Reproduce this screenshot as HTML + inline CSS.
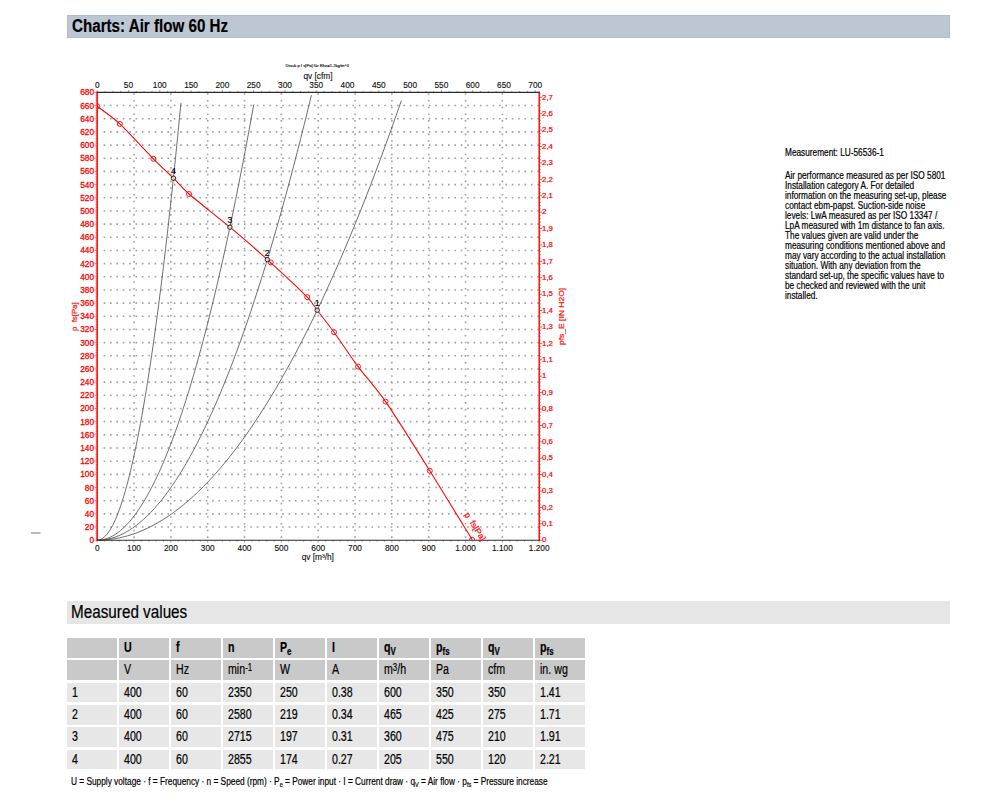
<!DOCTYPE html>
<html lang="en"><head><meta charset="utf-8"><title>Charts: Air flow 60 Hz</title>
<style>
html,body{margin:0;padding:0;background:#fff}
body{width:1000px;height:810px;position:relative;overflow:hidden;font-family:"Liberation Sans",Arial,sans-serif;color:#000;-webkit-text-stroke:0.2px #000}
.bar{position:absolute;left:67px;width:883px}
.bar span,.c span,.foot span.t,.para span{display:inline-block;white-space:nowrap;transform-origin:0 50%}
#b1{top:15.4px;height:22.6px;background:#bcc7d3;box-shadow:inset 0 0 0 1px #b0bdcb}
#b1 span{position:absolute;left:5.2px;top:0;line-height:22.6px;font-size:18.7px;font-weight:bold;transform:scaleX(.811)}
#b2{top:601px;height:23px;background:#e6e6e6}
#b2 span{position:absolute;left:3.6px;top:0;line-height:21.4px;font-size:18.3px;transform:scaleX(.835)}
.c{position:absolute;width:49.7px;height:19.7px}
.h{background:#c9c9c9} .d{background:#e7e7e7}
.c span{position:absolute;left:4.7px;top:0;line-height:19.6px;font-size:14px;transform:scaleX(.76)}
.d span{line-height:18.6px}
.b span{font-weight:bold}
.c sub,.c sup{font-size:10.4px;line-height:0}
.c sub{vertical-align:-2.6px} .c sup{vertical-align:3.2px}
.foot{position:absolute;left:70.9px;top:774.1px;font-size:10.5px;line-height:14px}
.foot span.t{display:block;transform:scaleX(.79)}
.foot sub{font-size:7px;line-height:0;vertical-align:-2px}
.para{position:absolute;left:785.3px;font-size:10.2px;line-height:10.04px}
.para span{display:block;transform:scaleX(.812);transform-origin:0 0}
#p1{top:147.8px} #p2{top:170.7px}
</style></head><body>
<div class="bar" id="b1"><span>Charts: Air flow 60 Hz</span></div>
<svg width="1000" height="810" viewBox="0 0 1000 810" style="position:absolute;left:0;top:0" font-family="'Liberation Sans', Arial, sans-serif" font-size="8.3" stroke-width="0.28">
<defs><clipPath id="plot"><rect x="97.2" y="92.4" width="442.00" height="447.80"/></clipPath></defs>
<path d="M134.03 93.25V540.20M170.87 93.25V540.20M207.70 93.25V540.20M244.53 93.25V540.20M281.37 93.25V540.20M318.20 93.25V540.20M355.03 93.25V540.20M391.87 93.25V540.20M428.70 93.25V540.20M465.53 93.25V540.20M502.37 93.25V540.20" stroke="#a0a0a0" stroke-width="1.6" stroke-dasharray="1.6 5.114" fill="none"/>
<path d="M103.65 527.03H539.20M103.65 513.86H539.20M103.65 500.69H539.20M103.65 487.52H539.20M103.65 474.35H539.20M103.65 461.18H539.20M103.65 448.01H539.20M103.65 434.84H539.20M103.65 421.66H539.20M103.65 408.49H539.20M103.65 395.32H539.20M103.65 382.15H539.20M103.65 368.98H539.20M103.65 355.81H539.20M103.65 342.64H539.20M103.65 329.47H539.20M103.65 316.30H539.20M103.65 303.13H539.20M103.65 289.96H539.20M103.65 276.79H539.20M103.65 263.62H539.20M103.65 250.45H539.20M103.65 237.28H539.20M103.65 224.11H539.20M103.65 210.94H539.20M103.65 197.76H539.20M103.65 184.59H539.20M103.65 171.42H539.20M103.65 158.25H539.20M103.65 145.08H539.20M103.65 131.91H539.20M103.65 118.74H539.20M103.65 105.57H539.20" stroke="#a0a0a0" stroke-width="1.6" stroke-dasharray="1.6 4.777" fill="none"/>
<polyline points="97.20 540.20 102.27 540.08 107.34 539.71 112.40 539.10 117.47 538.25 122.54 537.15 127.61 535.81 132.68 534.22 137.75 532.39 142.81 530.31 147.88 527.99 152.95 525.43 158.02 522.62 163.09 519.57 168.16 516.28 173.22 512.74 178.29 508.95 183.36 504.92 188.43 500.65 193.50 496.13 198.56 491.37 203.63 486.37 208.70 481.12 213.77 475.63 218.84 469.89 223.91 463.91 228.97 457.68 234.04 451.21 239.11 444.50 244.18 437.54 249.25 430.34 254.31 422.89 259.38 415.20 264.45 407.27 269.52 399.09 274.59 390.67 279.66 382.00 284.72 373.09 289.79 363.94 294.86 354.54 299.93 344.89 305.00 335.01 310.07 324.88 315.13 314.50 320.20 303.88 325.27 293.02 330.34 281.91 335.41 270.56 340.47 258.96 345.54 247.12 350.61 235.04 355.68 222.71 360.75 210.13 365.82 197.32 370.88 184.26 375.95 170.95 381.02 157.40 386.09 143.61 391.16 129.57 396.23 115.29 401.29 100.76" fill="none" stroke="#555" stroke-width="0.85"/>
<polyline points="97.20 540.20 100.77 540.08 104.34 539.71 107.91 539.09 111.48 538.22 115.05 537.11 118.62 535.75 122.19 534.14 125.76 532.29 129.33 530.19 132.90 527.84 136.47 525.24 140.04 522.40 143.61 519.31 147.18 515.97 150.75 512.39 154.32 508.55 157.90 504.47 161.47 500.15 165.04 495.57 168.61 490.75 172.18 485.68 175.75 480.37 179.32 474.80 182.89 468.99 186.46 462.94 190.03 456.63 193.60 450.08 197.17 443.28 200.74 436.24 204.31 428.94 207.88 421.40 211.45 413.61 215.02 405.58 218.59 397.29 222.16 388.76 225.73 379.99 229.30 370.96 232.87 361.69 236.44 352.17 240.01 342.41 243.58 332.39 247.15 322.13 250.72 311.63 254.29 300.87 257.86 289.87 261.43 278.62 265.00 267.12 268.57 255.38 272.15 243.39 275.72 231.15 279.29 218.66 282.86 205.93 286.43 192.95 290.00 179.72 293.57 166.25 297.14 152.53 300.71 138.56 304.28 124.34 307.85 109.88 311.42 95.17" fill="none" stroke="#555" stroke-width="0.85"/>
<polyline points="97.20 540.20 99.81 540.08 102.42 539.72 105.03 539.11 107.64 538.26 110.25 537.17 112.86 535.84 115.47 534.27 118.08 532.45 120.69 530.40 123.30 528.10 125.91 525.55 128.51 522.77 131.12 519.74 133.73 516.48 136.34 512.97 138.95 509.21 141.56 505.22 144.17 500.98 146.78 496.50 149.39 491.78 152.00 486.82 154.61 481.62 157.22 476.17 159.83 470.48 162.44 464.55 165.05 458.38 167.66 451.96 170.27 445.30 172.88 438.40 175.49 431.26 178.10 423.88 180.71 416.25 183.32 408.39 185.92 400.28 188.53 391.92 191.14 383.33 193.75 374.49 196.36 365.42 198.97 356.10 201.58 346.53 204.19 336.73 206.80 326.68 209.41 316.39 212.02 305.86 214.63 295.09 217.24 284.08 219.85 272.82 222.46 261.32 225.07 249.58 227.68 237.60 230.29 225.37 232.90 212.90 235.51 200.19 238.12 187.24 240.73 174.05 243.33 160.61 245.94 146.94 248.55 133.02 251.16 118.86 253.77 104.45" fill="none" stroke="#555" stroke-width="0.85"/>
<polyline points="97.20 540.20 98.60 540.08 99.99 539.71 101.39 539.11 102.78 538.26 104.18 537.16 105.58 535.83 106.97 534.25 108.37 532.42 109.76 530.36 111.16 528.05 112.56 525.50 113.95 522.70 115.35 519.67 116.74 516.39 118.14 512.86 119.54 509.10 120.93 505.09 122.33 500.83 123.72 496.34 125.12 491.60 126.52 486.62 127.91 481.39 129.31 475.93 130.70 470.22 132.10 464.26 133.50 458.07 134.89 451.63 136.29 444.95 137.68 438.02 139.08 430.85 140.48 423.44 141.87 415.79 143.27 407.89 144.66 399.75 146.06 391.36 147.46 382.74 148.85 373.87 150.25 364.76 151.64 355.40 153.04 345.80 154.44 335.96 155.83 325.88 157.23 315.55 158.62 304.98 160.02 294.17 161.42 283.11 162.81 271.81 164.21 260.27 165.60 248.48 167.00 236.45 168.40 224.18 169.79 211.67 171.19 198.91 172.58 185.91 173.98 172.67 175.38 159.18 176.77 145.45 178.17 131.48 179.56 117.26 180.96 102.80" fill="none" stroke="#555" stroke-width="0.85"/>
<path d="M97.20 106.30C99.71 108.26 113.56 118.07 119.80 123.90C126.04 129.73 147.44 152.77 153.40 158.80C159.36 164.83 169.44 174.29 173.40 178.20C177.36 182.11 182.72 188.56 189.00 194.00C195.28 199.44 221.17 219.89 229.90 227.20C238.63 234.51 259.01 252.03 267.60 259.80C276.19 267.57 301.69 291.50 307.20 297.10C312.71 302.70 314.22 306.30 317.20 310.20C320.18 314.10 329.47 325.93 334.00 332.20C338.53 338.47 352.27 358.89 358.00 366.60C363.73 374.31 377.62 390.03 385.60 401.60C393.58 413.17 420.18 455.34 429.80 470.70C439.42 486.06 467.49 532.12 472.20 539.80" fill="none" stroke="#ff0000" stroke-width="1.05"/>
<g clip-path="url(#plot)">
<circle cx="97.2" cy="106.3" r="2.5" fill="none" stroke="#ff0000" stroke-width="0.9"/>
<circle cx="119.8" cy="123.9" r="2.5" fill="none" stroke="#ff0000" stroke-width="0.9"/>
<circle cx="153.4" cy="158.8" r="2.5" fill="none" stroke="#ff0000" stroke-width="0.9"/>
<circle cx="189.0" cy="194.0" r="2.5" fill="none" stroke="#ff0000" stroke-width="0.9"/>
<circle cx="270.7" cy="262.4" r="2.5" fill="none" stroke="#ff0000" stroke-width="0.9"/>
<circle cx="307.2" cy="297.1" r="2.5" fill="none" stroke="#ff0000" stroke-width="0.9"/>
<circle cx="334.0" cy="332.2" r="2.5" fill="none" stroke="#ff0000" stroke-width="0.9"/>
<circle cx="358.0" cy="366.6" r="2.5" fill="none" stroke="#ff0000" stroke-width="0.9"/>
<circle cx="385.6" cy="401.6" r="2.5" fill="none" stroke="#ff0000" stroke-width="0.9"/>
<circle cx="429.8" cy="470.7" r="2.5" fill="none" stroke="#ff0000" stroke-width="0.9"/>
<circle cx="472.2" cy="539.8" r="2.5" fill="none" stroke="#ff0000" stroke-width="0.9"/>
</g>
<path d="M97.20 540.20h-2.8M97.20 538.55h-1.6M97.20 536.91h-1.6M97.20 535.26h-1.6M97.20 533.61h-1.6M97.20 531.97h-1.6M97.20 530.32h-1.6M97.20 528.68h-1.6M97.20 527.03h-2.8M97.20 525.38h-1.6M97.20 523.74h-1.6M97.20 522.09h-1.6M97.20 520.44h-1.6M97.20 518.80h-1.6M97.20 517.15h-1.6M97.20 515.51h-1.6M97.20 513.86h-2.8M97.20 512.21h-1.6M97.20 510.57h-1.6M97.20 508.92h-1.6M97.20 507.27h-1.6M97.20 505.63h-1.6M97.20 503.98h-1.6M97.20 502.33h-1.6M97.20 500.69h-2.8M97.20 499.04h-1.6M97.20 497.40h-1.6M97.20 495.75h-1.6M97.20 494.10h-1.6M97.20 492.46h-1.6M97.20 490.81h-1.6M97.20 489.16h-1.6M97.20 487.52h-2.8M97.20 485.87h-1.6M97.20 484.23h-1.6M97.20 482.58h-1.6M97.20 480.93h-1.6M97.20 479.29h-1.6M97.20 477.64h-1.6M97.20 475.99h-1.6M97.20 474.35h-2.8M97.20 472.70h-1.6M97.20 471.05h-1.6M97.20 469.41h-1.6M97.20 467.76h-1.6M97.20 466.12h-1.6M97.20 464.47h-1.6M97.20 462.82h-1.6M97.20 461.18h-2.8M97.20 459.53h-1.6M97.20 457.88h-1.6M97.20 456.24h-1.6M97.20 454.59h-1.6M97.20 452.94h-1.6M97.20 451.30h-1.6M97.20 449.65h-1.6M97.20 448.01h-2.8M97.20 446.36h-1.6M97.20 444.71h-1.6M97.20 443.07h-1.6M97.20 441.42h-1.6M97.20 439.77h-1.6M97.20 438.13h-1.6M97.20 436.48h-1.6M97.20 434.84h-2.8M97.20 433.19h-1.6M97.20 431.54h-1.6M97.20 429.90h-1.6M97.20 428.25h-1.6M97.20 426.60h-1.6M97.20 424.96h-1.6M97.20 423.31h-1.6M97.20 421.66h-2.8M97.20 420.02h-1.6M97.20 418.37h-1.6M97.20 416.73h-1.6M97.20 415.08h-1.6M97.20 413.43h-1.6M97.20 411.79h-1.6M97.20 410.14h-1.6M97.20 408.49h-2.8M97.20 406.85h-1.6M97.20 405.20h-1.6M97.20 403.56h-1.6M97.20 401.91h-1.6M97.20 400.26h-1.6M97.20 398.62h-1.6M97.20 396.97h-1.6M97.20 395.32h-2.8M97.20 393.68h-1.6M97.20 392.03h-1.6M97.20 390.38h-1.6M97.20 388.74h-1.6M97.20 387.09h-1.6M97.20 385.45h-1.6M97.20 383.80h-1.6M97.20 382.15h-2.8M97.20 380.51h-1.6M97.20 378.86h-1.6M97.20 377.21h-1.6M97.20 375.57h-1.6M97.20 373.92h-1.6M97.20 372.27h-1.6M97.20 370.63h-1.6M97.20 368.98h-2.8M97.20 367.34h-1.6M97.20 365.69h-1.6M97.20 364.04h-1.6M97.20 362.40h-1.6M97.20 360.75h-1.6M97.20 359.10h-1.6M97.20 357.46h-1.6M97.20 355.81h-2.8M97.20 354.17h-1.6M97.20 352.52h-1.6M97.20 350.87h-1.6M97.20 349.23h-1.6M97.20 347.58h-1.6M97.20 345.93h-1.6M97.20 344.29h-1.6M97.20 342.64h-2.8M97.20 340.99h-1.6M97.20 339.35h-1.6M97.20 337.70h-1.6M97.20 336.06h-1.6M97.20 334.41h-1.6M97.20 332.76h-1.6M97.20 331.12h-1.6M97.20 329.47h-2.8M97.20 327.82h-1.6M97.20 326.18h-1.6M97.20 324.53h-1.6M97.20 322.89h-1.6M97.20 321.24h-1.6M97.20 319.59h-1.6M97.20 317.95h-1.6M97.20 316.30h-2.8M97.20 314.65h-1.6M97.20 313.01h-1.6M97.20 311.36h-1.6M97.20 309.71h-1.6M97.20 308.07h-1.6M97.20 306.42h-1.6M97.20 304.78h-1.6M97.20 303.13h-2.8M97.20 301.48h-1.6M97.20 299.84h-1.6M97.20 298.19h-1.6M97.20 296.54h-1.6M97.20 294.90h-1.6M97.20 293.25h-1.6M97.20 291.61h-1.6M97.20 289.96h-2.8M97.20 288.31h-1.6M97.20 286.67h-1.6M97.20 285.02h-1.6M97.20 283.37h-1.6M97.20 281.73h-1.6M97.20 280.08h-1.6M97.20 278.43h-1.6M97.20 276.79h-2.8M97.20 275.14h-1.6M97.20 273.50h-1.6M97.20 271.85h-1.6M97.20 270.20h-1.6M97.20 268.56h-1.6M97.20 266.91h-1.6M97.20 265.26h-1.6M97.20 263.62h-2.8M97.20 261.97h-1.6M97.20 260.32h-1.6M97.20 258.68h-1.6M97.20 257.03h-1.6M97.20 255.39h-1.6M97.20 253.74h-1.6M97.20 252.09h-1.6M97.20 250.45h-2.8M97.20 248.80h-1.6M97.20 247.15h-1.6M97.20 245.51h-1.6M97.20 243.86h-1.6M97.20 242.22h-1.6M97.20 240.57h-1.6M97.20 238.92h-1.6M97.20 237.28h-2.8M97.20 235.63h-1.6M97.20 233.98h-1.6M97.20 232.34h-1.6M97.20 230.69h-1.6M97.20 229.04h-1.6M97.20 227.40h-1.6M97.20 225.75h-1.6M97.20 224.11h-2.8M97.20 222.46h-1.6M97.20 220.81h-1.6M97.20 219.17h-1.6M97.20 217.52h-1.6M97.20 215.87h-1.6M97.20 214.23h-1.6M97.20 212.58h-1.6M97.20 210.94h-2.8M97.20 209.29h-1.6M97.20 207.64h-1.6M97.20 206.00h-1.6M97.20 204.35h-1.6M97.20 202.70h-1.6M97.20 201.06h-1.6M97.20 199.41h-1.6M97.20 197.76h-2.8M97.20 196.12h-1.6M97.20 194.47h-1.6M97.20 192.83h-1.6M97.20 191.18h-1.6M97.20 189.53h-1.6M97.20 187.89h-1.6M97.20 186.24h-1.6M97.20 184.59h-2.8M97.20 182.95h-1.6M97.20 181.30h-1.6M97.20 179.66h-1.6M97.20 178.01h-1.6M97.20 176.36h-1.6M97.20 174.72h-1.6M97.20 173.07h-1.6M97.20 171.42h-2.8M97.20 169.78h-1.6M97.20 168.13h-1.6M97.20 166.48h-1.6M97.20 164.84h-1.6M97.20 163.19h-1.6M97.20 161.55h-1.6M97.20 159.90h-1.6M97.20 158.25h-2.8M97.20 156.61h-1.6M97.20 154.96h-1.6M97.20 153.31h-1.6M97.20 151.67h-1.6M97.20 150.02h-1.6M97.20 148.37h-1.6M97.20 146.73h-1.6M97.20 145.08h-2.8M97.20 143.44h-1.6M97.20 141.79h-1.6M97.20 140.14h-1.6M97.20 138.50h-1.6M97.20 136.85h-1.6M97.20 135.20h-1.6M97.20 133.56h-1.6M97.20 131.91h-2.8M97.20 130.27h-1.6M97.20 128.62h-1.6M97.20 126.97h-1.6M97.20 125.33h-1.6M97.20 123.68h-1.6M97.20 122.03h-1.6M97.20 120.39h-1.6M97.20 118.74h-2.8M97.20 117.09h-1.6M97.20 115.45h-1.6M97.20 113.80h-1.6M97.20 112.16h-1.6M97.20 110.51h-1.6M97.20 108.86h-1.6M97.20 107.22h-1.6M97.20 105.57h-2.8M97.20 103.92h-1.6M97.20 102.28h-1.6M97.20 100.63h-1.6M97.20 98.99h-1.6M97.20 97.34h-1.6M97.20 95.69h-1.6M97.20 94.05h-1.6M97.20 92.40h-2.8" stroke="#ff0000" stroke-width="0.55" fill="none"/>
<line x1="97.2" y1="91.80" x2="97.2" y2="540.80" stroke="#ff0000" stroke-width="1.4"/>
<path d="M539.20 540.20h3.0M539.20 536.92h1.5M539.20 533.64h1.5M539.20 530.36h1.5M539.20 527.08h1.5M539.20 523.80h3.0M539.20 520.52h1.5M539.20 517.24h1.5M539.20 513.95h1.5M539.20 510.67h1.5M539.20 507.39h3.0M539.20 504.11h1.5M539.20 500.83h1.5M539.20 497.55h1.5M539.20 494.27h1.5M539.20 490.99h3.0M539.20 487.71h1.5M539.20 484.43h1.5M539.20 481.15h1.5M539.20 477.87h1.5M539.20 474.59h3.0M539.20 471.31h1.5M539.20 468.03h1.5M539.20 464.75h1.5M539.20 461.46h1.5M539.20 458.18h3.0M539.20 454.90h1.5M539.20 451.62h1.5M539.20 448.34h1.5M539.20 445.06h1.5M539.20 441.78h3.0M539.20 438.50h1.5M539.20 435.22h1.5M539.20 431.94h1.5M539.20 428.66h1.5M539.20 425.38h3.0M539.20 422.10h1.5M539.20 418.82h1.5M539.20 415.54h1.5M539.20 412.25h1.5M539.20 408.97h3.0M539.20 405.69h1.5M539.20 402.41h1.5M539.20 399.13h1.5M539.20 395.85h1.5M539.20 392.57h3.0M539.20 389.29h1.5M539.20 386.01h1.5M539.20 382.73h1.5M539.20 379.45h1.5M539.20 376.17h3.0M539.20 372.89h1.5M539.20 369.61h1.5M539.20 366.33h1.5M539.20 363.04h1.5M539.20 359.76h3.0M539.20 356.48h1.5M539.20 353.20h1.5M539.20 349.92h1.5M539.20 346.64h1.5M539.20 343.36h3.0M539.20 340.08h1.5M539.20 336.80h1.5M539.20 333.52h1.5M539.20 330.24h1.5M539.20 326.96h3.0M539.20 323.68h1.5M539.20 320.40h1.5M539.20 317.12h1.5M539.20 313.84h1.5M539.20 310.55h3.0M539.20 307.27h1.5M539.20 303.99h1.5M539.20 300.71h1.5M539.20 297.43h1.5M539.20 294.15h3.0M539.20 290.87h1.5M539.20 287.59h1.5M539.20 284.31h1.5M539.20 281.03h1.5M539.20 277.75h3.0M539.20 274.47h1.5M539.20 271.19h1.5M539.20 267.91h1.5M539.20 264.63h1.5M539.20 261.34h3.0M539.20 258.06h1.5M539.20 254.78h1.5M539.20 251.50h1.5M539.20 248.22h1.5M539.20 244.94h3.0M539.20 241.66h1.5M539.20 238.38h1.5M539.20 235.10h1.5M539.20 231.82h1.5M539.20 228.54h3.0M539.20 225.26h1.5M539.20 221.98h1.5M539.20 218.70h1.5M539.20 215.42h1.5M539.20 212.14h3.0M539.20 208.85h1.5M539.20 205.57h1.5M539.20 202.29h1.5M539.20 199.01h1.5M539.20 195.73h3.0M539.20 192.45h1.5M539.20 189.17h1.5M539.20 185.89h1.5M539.20 182.61h1.5M539.20 179.33h3.0M539.20 176.05h1.5M539.20 172.77h1.5M539.20 169.49h1.5M539.20 166.21h1.5M539.20 162.93h3.0M539.20 159.64h1.5M539.20 156.36h1.5M539.20 153.08h1.5M539.20 149.80h1.5M539.20 146.52h3.0M539.20 143.24h1.5M539.20 139.96h1.5M539.20 136.68h1.5M539.20 133.40h1.5M539.20 130.12h3.0M539.20 126.84h1.5M539.20 123.56h1.5M539.20 120.28h1.5M539.20 117.00h1.5M539.20 113.72h3.0M539.20 110.44h1.5M539.20 107.15h1.5M539.20 103.87h1.5M539.20 100.59h1.5M539.20 97.31h3.0M539.20 94.03h1.5" stroke="#ff0000" stroke-width="0.7" fill="none"/>
<line x1="539.2" y1="91.80" x2="539.2" y2="540.80" stroke="#ff0000" stroke-width="1.4"/>
<path d="M97.20 92.40v-2.4M105.02 92.40v-1.5M112.85 92.40v-1.5M120.67 92.40v-1.5M128.49 92.40v-2.4M136.31 92.40v-1.5M144.14 92.40v-1.5M151.96 92.40v-1.5M159.78 92.40v-2.4M167.60 92.40v-1.5M175.43 92.40v-1.5M183.25 92.40v-1.5M191.07 92.40v-2.4M198.89 92.40v-1.5M206.72 92.40v-1.5M214.54 92.40v-1.5M222.36 92.40v-2.4M230.18 92.40v-1.5M238.01 92.40v-1.5M245.83 92.40v-1.5M253.65 92.40v-2.4M261.47 92.40v-1.5M269.30 92.40v-1.5M277.12 92.40v-1.5M284.94 92.40v-2.4M292.76 92.40v-1.5M300.59 92.40v-1.5M308.41 92.40v-1.5M316.23 92.40v-2.4M324.05 92.40v-1.5M331.88 92.40v-1.5M339.70 92.40v-1.5M347.52 92.40v-2.4M355.34 92.40v-1.5M363.17 92.40v-1.5M370.99 92.40v-1.5M378.81 92.40v-2.4M386.63 92.40v-1.5M394.46 92.40v-1.5M402.28 92.40v-1.5M410.10 92.40v-2.4M417.92 92.40v-1.5M425.75 92.40v-1.5M433.57 92.40v-1.5M441.39 92.40v-2.4M449.21 92.40v-1.5M457.04 92.40v-1.5M464.86 92.40v-1.5M472.68 92.40v-2.4M480.50 92.40v-1.5M488.33 92.40v-1.5M496.15 92.40v-1.5M503.97 92.40v-2.4M511.79 92.40v-1.5M519.62 92.40v-1.5M527.44 92.40v-1.5M535.26 92.40v-2.4" stroke="#2b2b2b" stroke-width="0.6" fill="none" opacity="0.7"/>
<line x1="96.60" y1="92.4" x2="539.80" y2="92.4" stroke="#2b2b2b" stroke-width="1.1"/>
<path d="M97.20 540.20v2.4M104.57 540.20v1.5M111.93 540.20v1.5M119.30 540.20v1.5M126.67 540.20v1.5M134.03 540.20v2.4M141.40 540.20v1.5M148.77 540.20v1.5M156.13 540.20v1.5M163.50 540.20v1.5M170.87 540.20v2.4M178.23 540.20v1.5M185.60 540.20v1.5M192.97 540.20v1.5M200.33 540.20v1.5M207.70 540.20v2.4M215.07 540.20v1.5M222.43 540.20v1.5M229.80 540.20v1.5M237.17 540.20v1.5M244.53 540.20v2.4M251.90 540.20v1.5M259.27 540.20v1.5M266.63 540.20v1.5M274.00 540.20v1.5M281.37 540.20v2.4M288.73 540.20v1.5M296.10 540.20v1.5M303.47 540.20v1.5M310.83 540.20v1.5M318.20 540.20v2.4M325.57 540.20v1.5M332.93 540.20v1.5M340.30 540.20v1.5M347.67 540.20v1.5M355.03 540.20v2.4M362.40 540.20v1.5M369.77 540.20v1.5M377.13 540.20v1.5M384.50 540.20v1.5M391.87 540.20v2.4M399.23 540.20v1.5M406.60 540.20v1.5M413.97 540.20v1.5M421.33 540.20v1.5M428.70 540.20v2.4M436.07 540.20v1.5M443.43 540.20v1.5M450.80 540.20v1.5M458.17 540.20v1.5M465.53 540.20v2.4M472.90 540.20v1.5M480.27 540.20v1.5M487.63 540.20v1.5M495.00 540.20v1.5M502.37 540.20v2.4M509.73 540.20v1.5M517.10 540.20v1.5M524.47 540.20v1.5M531.83 540.20v1.5M539.20 540.20v2.4" stroke="#2b2b2b" stroke-width="0.6" fill="none" opacity="0.7"/>
<line x1="96.60" y1="540.2" x2="539.80" y2="540.2" stroke="#2b2b2b" stroke-width="1.15"/>
<circle cx="317.20" cy="310.20" r="2.2" fill="#fff" fill-opacity="0.7" stroke="#111" stroke-width="0.95"/>
<text x="317.20" y="306.10" text-anchor="middle" fill="#000" stroke="#000" stroke-width="0.18" font-size="8.8">1</text>
<circle cx="267.30" cy="259.60" r="2.2" fill="#fff" fill-opacity="0.7" stroke="#111" stroke-width="0.95"/>
<text x="267.30" y="255.50" text-anchor="middle" fill="#000" stroke="#000" stroke-width="0.18" font-size="8.8">2</text>
<circle cx="229.90" cy="227.20" r="2.2" fill="#fff" fill-opacity="0.7" stroke="#111" stroke-width="0.95"/>
<text x="229.90" y="223.10" text-anchor="middle" fill="#000" stroke="#000" stroke-width="0.18" font-size="8.8">3</text>
<circle cx="173.40" cy="178.20" r="2.2" fill="#fff" fill-opacity="0.7" stroke="#111" stroke-width="0.95"/>
<text x="173.40" y="174.10" text-anchor="middle" fill="#000" stroke="#000" stroke-width="0.18" font-size="8.8">4</text>
<g fill="#ff0000" stroke="#ff0000" text-anchor="end">
<text x="94.10" y="543.20">0</text>
<text x="94.10" y="530.03">20</text>
<text x="94.10" y="516.86">40</text>
<text x="94.10" y="503.69">60</text>
<text x="94.10" y="490.52">80</text>
<text x="94.10" y="477.35">100</text>
<text x="94.10" y="464.18">120</text>
<text x="94.10" y="451.01">140</text>
<text x="94.10" y="437.84">160</text>
<text x="94.10" y="424.66">180</text>
<text x="94.10" y="411.49">200</text>
<text x="94.10" y="398.32">220</text>
<text x="94.10" y="385.15">240</text>
<text x="94.10" y="371.98">260</text>
<text x="94.10" y="358.81">280</text>
<text x="94.10" y="345.64">300</text>
<text x="94.10" y="332.47">320</text>
<text x="94.10" y="319.30">340</text>
<text x="94.10" y="306.13">360</text>
<text x="94.10" y="292.96">380</text>
<text x="94.10" y="279.79">400</text>
<text x="94.10" y="266.62">420</text>
<text x="94.10" y="253.45">440</text>
<text x="94.10" y="240.28">460</text>
<text x="94.10" y="227.11">480</text>
<text x="94.10" y="213.94">500</text>
<text x="94.10" y="200.76">520</text>
<text x="94.10" y="187.59">540</text>
<text x="94.10" y="174.42">560</text>
<text x="94.10" y="161.25">580</text>
<text x="94.10" y="148.08">600</text>
<text x="94.10" y="134.91">620</text>
<text x="94.10" y="121.74">640</text>
<text x="94.10" y="108.57">660</text>
<text x="94.10" y="95.40">680</text>
</g>
<g fill="#ff0000" stroke="#ff0000" stroke-width="0.22" font-size="7.8">
<text x="542.10" y="542.40">0</text>
<text x="542.10" y="526.00">0,1</text>
<text x="542.10" y="509.59">0,2</text>
<text x="542.10" y="493.19">0,3</text>
<text x="542.10" y="476.79">0,4</text>
<text x="542.10" y="460.38">0,5</text>
<text x="542.10" y="443.98">0,6</text>
<text x="542.10" y="427.58">0,7</text>
<text x="542.10" y="411.17">0,8</text>
<text x="542.10" y="394.77">0,9</text>
<text x="542.10" y="378.37">1</text>
<text x="542.10" y="361.96">1,1</text>
<text x="542.10" y="345.56">1,2</text>
<text x="542.10" y="329.16">1,3</text>
<text x="542.10" y="312.75">1,4</text>
<text x="542.10" y="296.35">1,5</text>
<text x="542.10" y="279.95">1,6</text>
<text x="542.10" y="263.54">1,7</text>
<text x="542.10" y="247.14">1,8</text>
<text x="542.10" y="230.74">1,9</text>
<text x="542.10" y="214.34">2</text>
<text x="542.10" y="197.93">2,1</text>
<text x="542.10" y="181.53">2,2</text>
<text x="542.10" y="165.13">2,3</text>
<text x="542.10" y="148.72">2,4</text>
<text x="542.10" y="132.32">2,5</text>
<text x="542.10" y="115.92">2,6</text>
<text x="542.10" y="99.51">2,7</text>
</g>
<g fill="#111" stroke="#111" stroke-width="0.13" text-anchor="middle">
<text x="97.20" y="87.9">0</text>
<text x="128.49" y="87.9">50</text>
<text x="159.78" y="87.9">100</text>
<text x="191.07" y="87.9">150</text>
<text x="222.36" y="87.9">200</text>
<text x="253.65" y="87.9">250</text>
<text x="284.94" y="87.9">300</text>
<text x="316.23" y="87.9">350</text>
<text x="347.52" y="87.9">400</text>
<text x="378.81" y="87.9">450</text>
<text x="410.10" y="87.9">500</text>
<text x="441.39" y="87.9">550</text>
<text x="472.68" y="87.9">600</text>
<text x="503.97" y="87.9">650</text>
<text x="535.26" y="87.9">700</text>
</g>
<g fill="#111" stroke="#111" stroke-width="0.13" text-anchor="middle">
<text x="97.20" y="550.9">0</text>
<text x="134.03" y="550.9">100</text>
<text x="170.87" y="550.9">200</text>
<text x="207.70" y="550.9">300</text>
<text x="244.53" y="550.9">400</text>
<text x="281.37" y="550.9">500</text>
<text x="318.20" y="550.9">600</text>
<text x="355.03" y="550.9">700</text>
<text x="391.87" y="550.9">800</text>
<text x="428.70" y="550.9">900</text>
<text x="465.53" y="550.9">1.000</text>
<text x="502.37" y="550.9">1.100</text>
<text x="539.20" y="550.9">1.200</text>
</g>
<text x="317.1" y="66.6" text-anchor="middle" fill="#000" stroke="#000" stroke-width="0.12" font-size="4.15">Druck p f s[Pa] für Rho=1.2kg/m^3</text>
<text x="318" y="78.6" text-anchor="middle" fill="#111" stroke="#111" stroke-width="0.13">qv [cfm]</text>
<text x="317.8" y="560.2" text-anchor="middle" fill="#111" stroke="#111" stroke-width="0.13">qv [m³/h]</text>
<text transform="translate(76.8 331) rotate(-90)" fill="#ff0000" stroke="#ff0000" stroke-width="0.18" font-size="8" textLength="28.6" lengthAdjust="spacingAndGlyphs" xml:space="preserve">p  fs[Pa]</text>
<text transform="translate(564 345) rotate(-90)" fill="#ff0000" stroke="#ff0000" stroke-width="0.18" font-size="8" textLength="57.2" lengthAdjust="spacingAndGlyphs">pfs_E [IN H2O]</text>
<text transform="translate(464.2 514.6) rotate(57.5)" fill="#ff0000" stroke="#ff0000" stroke-width="0.18" textLength="32" lengthAdjust="spacingAndGlyphs" xml:space="preserve">p  fs[Pa]</text>
<line x1="31" y1="533" x2="40.5" y2="533" stroke="#777" stroke-width="1"/>
</svg>
<div class="para" id="p1"><span>Measurement: LU-56536-1</span></div>
<div class="para" id="p2"><span>Air performance measured as per ISO 5801<br>Installation category A. For detailed<br>information on the measuring set-up, please<br>contact ebm-papst. Suction-side noise<br>levels: LwA measured as per ISO 13347 /<br>LpA measured with 1m distance to fan axis.<br>The values given are valid under the<br>measuring conditions mentioned above and<br>may vary according to the actual installation<br>situation. With any deviation from the<br>standard set-up, the specific values have to<br>be checked and reviewed with the unit<br>installed.</span></div>
<div class="bar" id="b2"><span>Measured values</span></div>
<div class="c h b" style="left:67px;top:638.00px"><span></span></div>
<div class="c h b" style="left:119px;top:638.00px"><span>U</span></div>
<div class="c h b" style="left:171px;top:638.00px"><span>f</span></div>
<div class="c h b" style="left:223px;top:638.00px"><span>n</span></div>
<div class="c h b" style="left:275px;top:638.00px"><span>P<sub>e</sub></span></div>
<div class="c h b" style="left:327px;top:638.00px"><span>I</span></div>
<div class="c h b" style="left:379px;top:638.00px"><span>q<sub>V</sub></span></div>
<div class="c h b" style="left:431px;top:638.00px"><span>p<sub>fs</sub></span></div>
<div class="c h b" style="left:483px;top:638.00px"><span>q<sub>V</sub></span></div>
<div class="c h b" style="left:535px;top:638.00px"><span>p<sub>fs</sub></span></div>
<div class="c h" style="left:67px;top:660.35px"><span></span></div>
<div class="c h" style="left:119px;top:660.35px"><span>V</span></div>
<div class="c h" style="left:171px;top:660.35px"><span>Hz</span></div>
<div class="c h" style="left:223px;top:660.35px"><span>min<sup>-1</sup></span></div>
<div class="c h" style="left:275px;top:660.35px"><span>W</span></div>
<div class="c h" style="left:327px;top:660.35px"><span>A</span></div>
<div class="c h" style="left:379px;top:660.35px"><span>m<sup>3</sup>/h</span></div>
<div class="c h" style="left:431px;top:660.35px"><span>Pa</span></div>
<div class="c h" style="left:483px;top:660.35px"><span>cfm</span></div>
<div class="c h" style="left:535px;top:660.35px"><span>in. wg</span></div>
<div class="c d" style="left:67px;top:682.70px"><span>1</span></div>
<div class="c d" style="left:119px;top:682.70px"><span>400</span></div>
<div class="c d" style="left:171px;top:682.70px"><span>60</span></div>
<div class="c d" style="left:223px;top:682.70px"><span>2350</span></div>
<div class="c d" style="left:275px;top:682.70px"><span>250</span></div>
<div class="c d" style="left:327px;top:682.70px"><span>0.38</span></div>
<div class="c d" style="left:379px;top:682.70px"><span>600</span></div>
<div class="c d" style="left:431px;top:682.70px"><span>350</span></div>
<div class="c d" style="left:483px;top:682.70px"><span>350</span></div>
<div class="c d" style="left:535px;top:682.70px"><span>1.41</span></div>
<div class="c d" style="left:67px;top:705.05px"><span>2</span></div>
<div class="c d" style="left:119px;top:705.05px"><span>400</span></div>
<div class="c d" style="left:171px;top:705.05px"><span>60</span></div>
<div class="c d" style="left:223px;top:705.05px"><span>2580</span></div>
<div class="c d" style="left:275px;top:705.05px"><span>219</span></div>
<div class="c d" style="left:327px;top:705.05px"><span>0.34</span></div>
<div class="c d" style="left:379px;top:705.05px"><span>465</span></div>
<div class="c d" style="left:431px;top:705.05px"><span>425</span></div>
<div class="c d" style="left:483px;top:705.05px"><span>275</span></div>
<div class="c d" style="left:535px;top:705.05px"><span>1.71</span></div>
<div class="c d" style="left:67px;top:727.40px"><span>3</span></div>
<div class="c d" style="left:119px;top:727.40px"><span>400</span></div>
<div class="c d" style="left:171px;top:727.40px"><span>60</span></div>
<div class="c d" style="left:223px;top:727.40px"><span>2715</span></div>
<div class="c d" style="left:275px;top:727.40px"><span>197</span></div>
<div class="c d" style="left:327px;top:727.40px"><span>0.31</span></div>
<div class="c d" style="left:379px;top:727.40px"><span>360</span></div>
<div class="c d" style="left:431px;top:727.40px"><span>475</span></div>
<div class="c d" style="left:483px;top:727.40px"><span>210</span></div>
<div class="c d" style="left:535px;top:727.40px"><span>1.91</span></div>
<div class="c d" style="left:67px;top:749.75px"><span>4</span></div>
<div class="c d" style="left:119px;top:749.75px"><span>400</span></div>
<div class="c d" style="left:171px;top:749.75px"><span>60</span></div>
<div class="c d" style="left:223px;top:749.75px"><span>2855</span></div>
<div class="c d" style="left:275px;top:749.75px"><span>174</span></div>
<div class="c d" style="left:327px;top:749.75px"><span>0.27</span></div>
<div class="c d" style="left:379px;top:749.75px"><span>205</span></div>
<div class="c d" style="left:431px;top:749.75px"><span>550</span></div>
<div class="c d" style="left:483px;top:749.75px"><span>120</span></div>
<div class="c d" style="left:535px;top:749.75px"><span>2.21</span></div>
<div class="foot"><span class="t">U = Supply voltage · f = Frequency · n = Speed (rpm) · P<sub>e</sub> = Power input · I = Current draw · q<sub>V</sub> = Air flow · p<sub>fs</sub> = Pressure increase</span></div>
</body></html>
